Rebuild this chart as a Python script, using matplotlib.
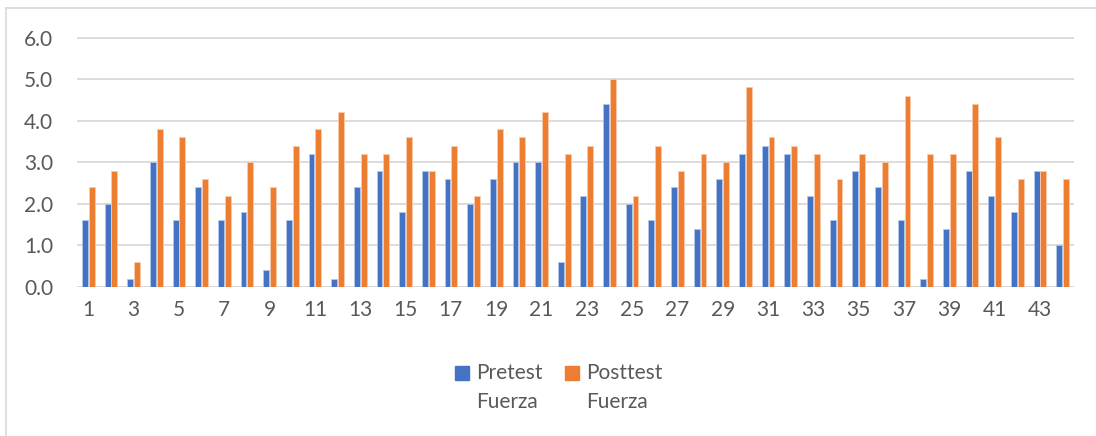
import matplotlib.pyplot as plt
import numpy as np
from matplotlib.lines import Line2D
from matplotlib.patches import Rectangle

plt.rcParams['font.family'] = ['Lato', 'DejaVu Sans']

categories = [str(i) for i in range(1, 45)]
pretest = [1.6, 2.0, 0.2, 3.0, 1.6, 2.4, 1.6, 1.8, 0.4, 1.6,
           3.2, 0.2, 2.4, 2.8, 1.8, 2.8, 2.6, 2.0, 2.6, 3.0,
           3.0, 0.6, 2.2, 4.4, 2.0, 1.6, 2.4, 1.4, 2.6, 3.2,
           3.4, 3.2, 2.2, 1.6, 2.8, 2.4, 1.6, 0.2, 1.4, 2.8,
           2.2, 1.8, 2.8, 1.0]
posttest = [2.4, 2.8, 0.6, 3.8, 3.6, 2.6, 2.2, 3.0, 2.4, 3.4,
            3.8, 4.2, 3.2, 3.2, 3.6, 2.8, 3.4, 2.2, 3.8, 3.6,
            4.2, 3.2, 3.4, 5.0, 2.2, 3.4, 2.8, 3.2, 3.0, 4.8,
            3.6, 3.4, 3.2, 2.6, 3.2, 3.0, 4.6, 3.2, 3.2, 4.4,
            3.6, 2.6, 2.8, 2.6]
yticks = [0, 1, 2, 3, 4, 5, 6]
series_names = [('Pretest', 'Fuerza'), ('Posttest', 'Fuerza')]

blue = '#4472c4'
orange = '#ed7d31'
grey = '#595959'
W, H = 1096, 436

fig = plt.figure(figsize=(10.96, 4.36), dpi=100)
ax = fig.add_axes([77 / W, 1 - 287 / H, 997 / W, 249.5 / H])

x = np.arange(len(categories))
w = 0.26
ax.bar(x - 0.15, pretest, w, color=blue, edgecolor='#b4c7e7', linewidth=0.6, zorder=3)
ax.bar(x + 0.15, posttest, w, color=orange, edgecolor='#f8cbad', linewidth=0.6, zorder=3)

ax.set_xlim(-0.5, len(categories) - 0.5)
ax.set_ylim(0, 6)
ax.set_yticks(yticks)
ax.set_yticklabels(['%.1f' % v for v in yticks])
ax.set_xticks(x[::2])
ax.set_xticklabels(categories[::2])
ax.tick_params(length=0, labelsize=15, colors=grey)
ax.tick_params(axis='y', pad=17)
ax.tick_params(axis='x', pad=9)
ax.yaxis.grid(True, color='#d9d9d9', linewidth=1.3, zorder=0)
for s in ax.spines.values():
    s.set_visible(False)
ax.axhline(0, color='#d9d9d9', linewidth=1.3, zorder=2)

# legend drawn by hand: square aligned with first text line
for (l1, l2), col, sx in zip(series_names, [blue, orange], [455, 565]):
    fig.add_artist(Rectangle((sx / W, 1 - 380 / H), 14 / W, 14 / H,
                             transform=fig.transFigure, color=col))
    fig.text((sx + 21) / W, 1 - 373 / H, l1, fontsize=15, color=grey, va='center', ha='left')
    fig.text((sx + 21) / W, 1 - 402 / H, l2, fontsize=15, color=grey, va='center', ha='left')

# chart border (left and top visible)
fig.add_artist(Line2D([6 / W, 6 / W], [0, 1 - 8 / H], transform=fig.transFigure,
                      color='#d9d9d9', linewidth=1.2))
fig.add_artist(Line2D([6 / W, 1], [1 - 8 / H, 1 - 8 / H], transform=fig.transFigure,
                      color='#d9d9d9', linewidth=1.2))

fig.savefig('out.png', dpi=100)
